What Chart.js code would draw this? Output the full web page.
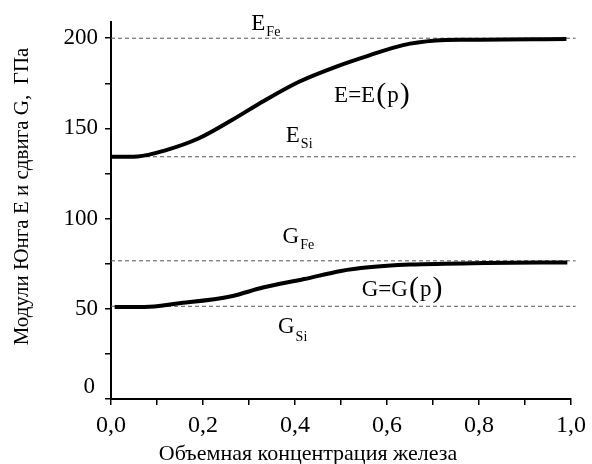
<!DOCTYPE html>
<html>
<head>
<meta charset="utf-8">
<script src="https://cdn.jsdelivr.net/npm/chart.js@4"></script>
<style>
  body { margin: 0; background: #fff; }
  #wrap { width: 592px; height: 464px; }
</style>
</head>
<body>
<div id="wrap"><canvas id="chart" width="592" height="464"></canvas></div>
<script>
// E(p) curve - Young's modulus vs iron volume fraction
const eConc = [0, 0.058, 0.12, 0.19, 0.262, 0.334, 0.41, 0.49, 0.563, 0.635, 0.706, 0.777, 0.99];
const eValues = [134.3, 134.5, 138, 144.4, 154.5, 165.5, 176, 184.3, 190.6, 196.2, 198.7, 199.2, 199.6];

// G(p) curve - shear modulus
const gConc = [0.008, 0.073, 0.144, 0.262, 0.33, 0.42, 0.5, 0.56, 0.65, 0.813, 0.992];
const gValues = [51.0, 51.0, 52.9, 57.0, 61.8, 66.5, 71.0, 73.0, 74.5, 75.4, 75.7];

// reference levels for pure Fe and Si
const E_FE = 200;
const E_SI = 134.3;
const G_FE = 76.6;
const G_SI = 51.4;
const refSpan = [0, 1.01];

const FONT = '"Liberation Serif", serif';

function toPoints(xs, ys) {
    return xs.map((x, i) => ({ x: x, y: ys[i] }));
}

function refLine(level) {
    return {
        data: refSpan.map(x => ({ x: x, y: level })),
        borderColor: '#555',
        borderWidth: 1,
        borderDash: [4, 3],
        pointRadius: 0,
        clip: false,
        order: 2
    };
}

function curve(xs, ys) {
    return {
        data: toPoints(xs, ys),
        borderColor: '#000',
        borderWidth: 4,
        pointRadius: 0,
        cubicInterpolationMode: 'monotone',
        order: 1
    };
}

// label with subscript, e.g. E_Fe
function drawSub(ctx, main, sub, x, y, subDy) {
    ctx.font = '23px ' + FONT;
    ctx.fillText(main, x, y);
    const w = ctx.measureText(main).width;
    ctx.font = '14px ' + FONT;
    ctx.fillText(sub, x + w + 1, y + subDy);
}

// label like E=E(p) with larger parens
function drawFunc(ctx, name, x, y) {
    ctx.font = '23px ' + FONT;
    const head = name + '=' + name;
    ctx.fillText(head, x, y);
    let cx = x + ctx.measureText(head).width + 1;
    ctx.font = '30px ' + FONT;
    ctx.fillText('(', cx, y + 1);
    cx += ctx.measureText('(').width + 1;
    ctx.font = '23px ' + FONT;
    ctx.fillText('p', cx, y);
    cx += ctx.measureText('p').width + 1;
    ctx.font = '30px ' + FONT;
    ctx.fillText(')', cx, y + 1);
}

const textPlugin = {
    id: 'texts',
    afterDraw(chart) {
        const ctx = chart.ctx;
        const xs = chart.scales.x;
        const ys = chart.scales.y;
        const area = chart.chartArea;
        ctx.save();
        ctx.fillStyle = '#000';
        ctx.textBaseline = 'alphabetic';
        ctx.textAlign = 'left';

        drawSub(ctx, 'E', 'Fe', xs.getPixelForValue(0.305), ys.getPixelForValue(204.7), 6);
        drawSub(ctx, 'E', 'Si', xs.getPixelForValue(0.38), ys.getPixelForValue(142.5), 6);
        drawSub(ctx, 'G', 'Fe', xs.getPixelForValue(0.373), ys.getPixelForValue(86.4), 6);
        drawSub(ctx, 'G', 'Si', xs.getPixelForValue(0.363), ys.getPixelForValue(36.4), 8);
        drawFunc(ctx, 'E', xs.getPixelForValue(0.485), ys.getPixelForValue(164.7));
        drawFunc(ctx, 'G', xs.getPixelForValue(0.545), ys.getPixelForValue(56.9));

        // the "0" tick label sits a bit above the axis in the original
        ctx.font = '23px ' + FONT;
        ctx.textAlign = 'right';
        ctx.textBaseline = 'middle';
        ctx.fillText('0', area.left - 16, ys.getPixelForValue(0) - 12);

        // axis titles
        ctx.font = '22px ' + FONT;
        ctx.textAlign = 'center';
        ctx.textBaseline = 'alphabetic';
        ctx.fillText('Объемная концентрация железа', (area.left + area.right) / 2 - 33, 460);

        ctx.font = '21px ' + FONT;
        ctx.translate(22, (area.top + area.bottom) / 2 - 14);
        ctx.rotate(-Math.PI / 2);
        ctx.textBaseline = 'middle';
        ctx.fillText('Модули Юнга E и сдвига G,  ГПа', 0, 0);
        ctx.restore();
    }
};

function buildChart() {
    const ctx = document.getElementById('chart').getContext('2d');
    new Chart(ctx, {
        type: 'line',
        data: {
            datasets: [
                refLine(E_FE),
                refLine(E_SI),
                refLine(G_FE),
                refLine(G_SI),
                curve(eConc, eValues),
                curve(gConc, gValues)
            ]
        },
        options: {
            responsive: false,
            animation: false,
            layout: { padding: { left: 0, top: 22, right: 15, bottom: 0 } },
            plugins: {
                legend: { display: false },
                tooltip: { enabled: false }
            },
            scales: {
                x: {
                    type: 'linear',
                    min: 0,
                    max: 1,
                    afterFit(scale) { scale.height = 65; },
                    border: { display: true, color: '#000', width: 2 },
                    grid: { drawOnChartArea: false, color: '#000', lineWidth: 1.5, tickLength: 6 },
                    ticks: {
                        stepSize: 0.1,
                        padding: 6,
                        color: '#000',
                        font: { family: FONT, size: 24 },
                        maxRotation: 0,
                        autoSkip: false,
                        callback: v => {
                            const n = Math.round(v * 10);
                            return n % 2 === 0 ? (n / 10).toFixed(1).replace('.', ',') : '';
                        }
                    }
                },
                y: {
                    min: 0,
                    max: 209,
                    afterFit(scale) { scale.width = 111; },
                    border: { display: true, color: '#000', width: 2 },
                    grid: { drawOnChartArea: false, color: '#000', lineWidth: 1.5, tickLength: 6 },
                    ticks: {
                        stepSize: 25,
                        includeBounds: false,
                        padding: 7,
                        color: '#000',
                        font: { family: FONT, size: 23 },
                        autoSkip: false,
                        callback: v => (v % 50 === 0 && v !== 0) ? String(v) : ''
                    }
                }
            }
        },
        plugins: [textPlugin]
    });
}

// make sure the serif face is ready before the single (non-animated) draw
Promise.all([
    document.fonts.load('23px "Liberation Serif"', 'EGFe0123'),
    document.fonts.load('21px "Liberation Serif"', 'Объемная')
]).catch(() => {}).then(buildChart);
</script>
</body>
</html>
